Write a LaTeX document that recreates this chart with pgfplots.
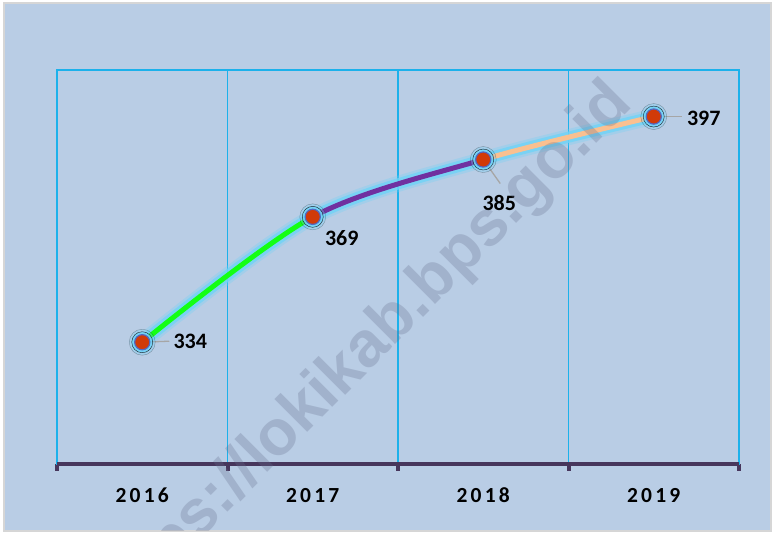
\documentclass[border=0pt]{standalone}
\usepackage{pgfplots}
\pgfplotsset{compat=1.18}
\usepackage{fontspec}
\setmainfont{Carlito}
\newfontfamily\yearfont[LetterSpace=15]{Carlito}
\newfontfamily\wmfont{Liberation Sans}
\definecolor{bgblue}{HTML}{B9CDE5}
\definecolor{framegray}{HTML}{D6D6D6}
\definecolor{cyangrid}{HTML}{1CB1EB}
\definecolor{axispurple}{HTML}{47365C}
\definecolor{linegreen}{HTML}{14FF14}
\definecolor{linepurple}{HTML}{7030A0}
\definecolor{linepeach}{HTML}{FAC090}
\definecolor{markred}{HTML}{D13A08}
\definecolor{markedge}{HTML}{5267C2}
\definecolor{glow}{HTML}{6FD3F7}
\definecolor{leadergray}{HTML}{A6A6A6}
\definecolor{wmcolor}{RGB}{100,110,140}
\begin{document}
\begin{tikzpicture}[x=1pt,y=1pt]
\useasboundingbox (0,0) rectangle (774,534);
\fill[white] (0,0) rectangle (774,534);
\filldraw[fill=bgblue, draw=framegray, line width=2pt] (4,3) rectangle (771,531);
\begin{axis}[
  at={(57pt,70pt)}, anchor=south west,
  scale only axis, width=682pt, height=394pt,
  xmin=-0.5, xmax=3.5, ymin=300, ymax=410,
  xtick={0,1,2,3}, xticklabels={2016,2017,2018,2019},
  major tick length=0pt,
  minor xtick={-0.5,0.5,1.5,2.5,3.5},
  xminorgrids, minor grid style={cyangrid, line width=1.2pt},
  minor tick length=7pt, tick align=outside, xtick pos=left,
  ytick=\empty,
  minor tick style={axispurple, line width=4pt},
  axis line style={cyangrid, line width=2pt},
  xticklabel style={font=\yearfont\bfseries\fontsize{21.5}{25}\selectfont, anchor=base, yshift=-39pt},
  clip=false,
]
\draw[axispurple, line width=4.3pt] (rel axis cs:0,0) -- (rel axis cs:1,0);
% glow behind line
\addplot[glow, line width=16pt, opacity=0.3, smooth, line cap=round] coordinates {(0,334) (1,369) (2,385) (3,397)};
\addplot[glow, line width=11pt, opacity=0.8, smooth, line cap=round] coordinates {(0,334) (1,369) (2,385) (3,397)};
\begin{scope}
\clip (axis cs:-0.5,300) rectangle (axis cs:1,410);
\addplot[linegreen, line width=5pt, smooth] coordinates {(0,334) (1,369) (2,385) (3,397)};
\end{scope}
\begin{scope}
\clip (axis cs:1,300) rectangle (axis cs:2,410);
\addplot[linepurple, line width=5pt, smooth] coordinates {(0,334) (1,369) (2,385) (3,397)};
\end{scope}
\begin{scope}
\clip (axis cs:2,300) rectangle (axis cs:3.5,410);
\addplot[linepeach, line width=5pt, smooth] coordinates {(0,334) (1,369) (2,385) (3,397)};
\end{scope}
% markers
\addplot[only marks, mark=*, mark size=13pt, mark options={fill=glow, draw=none, opacity=0.3}] coordinates {(0,334) (1,369) (2,385) (3,397)};
\addplot[only marks, mark=*, mark size=10.5pt, mark options={fill=glow, draw=none, opacity=0.85}] coordinates {(0,334) (1,369) (2,385) (3,397)};
\addplot[only marks, mark=*, mark size=7.6pt, mark options={fill=markred, draw=markedge, line width=1.2pt}] coordinates {(0,334) (1,369) (2,385) (3,397)};
% leader lines
\draw[leadergray, line width=1.3pt] (axis cs:0,334) -- ++(27pt,1pt);
\draw[leadergray, line width=1.3pt] (axis cs:2,385) -- ++(17pt,-24pt);
\draw[leadergray, line width=1.3pt] (axis cs:3,397) -- ++(28pt,0pt);
% labels
\addplot[draw=none, mark=none, point meta=explicit symbolic, nodes near coords,
  nodes near coords style={font=\bfseries\fontsize{22}{25}\selectfont, anchor=center, xshift=48pt, yshift=1pt}]
  coordinates {(0,334) [334]};
\addplot[draw=none, mark=none, point meta=explicit symbolic, nodes near coords,
  nodes near coords style={font=\bfseries\fontsize{22}{25}\selectfont, anchor=center, xshift=29pt, yshift=-21pt}]
  coordinates {(1,369) [369]};
\addplot[draw=none, mark=none, point meta=explicit symbolic, nodes near coords,
  nodes near coords style={font=\bfseries\fontsize{22}{25}\selectfont, anchor=center, xshift=16pt, yshift=-43pt}]
  coordinates {(2,385) [385]};
\addplot[draw=none, mark=none, point meta=explicit symbolic, nodes near coords,
  nodes near coords style={font=\bfseries\fontsize{22}{25}\selectfont, anchor=center, xshift=50pt, yshift=-2pt}]
  coordinates {(3,397) [397]};
\end{axis}
\begin{scope}
\clip (4,3) rectangle (771,531);
\node[rotate=45, text=wmcolor, text opacity=0.28, font=\wmfont\bfseries\fontsize{64}{70}\selectfont] at (362,179) {https://lokikab.bps.go.id};
\end{scope}
\end{tikzpicture}
\end{document}
